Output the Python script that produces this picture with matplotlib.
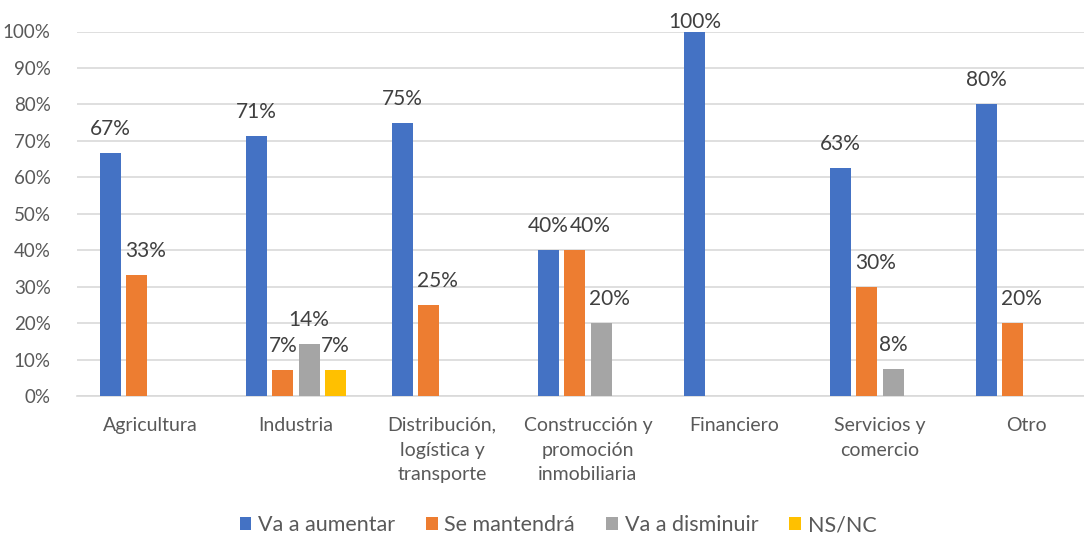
import matplotlib
matplotlib.use("Agg")
import matplotlib.pyplot as plt
import numpy as np
import math

categories = ["Agricultura", "Industria", "Distribución,\nlogística y\ntransporte",
              "Construcción y\npromoción\ninmobiliaria", "Financiero",
              "Servicios y\ncomercio", "Otro"]
series_names = ["Va a aumentar", "Se mantendrá", "Va a disminuir", "NS/NC"]
va_a_aumentar = [66.7, 71.4, 75.0, 40.0, 100.0, 62.5, 80.0]
se_mantendra = [33.3, 7.1, 25.0, 40.0, 0.0, 30.0, 20.0]
va_a_disminuir = [0.0, 14.3, 0.0, 20.0, 0.0, 7.5, 0.0]
ns_nc = [0.0, 7.1, 0.0, 0.0, 0.0, 0.0, 0.0]
colors = ["#4472C4", "#ED7D31", "#A5A5A5", "#FFC000"]

plt.rcParams['font.family'] = ['Lato', 'DejaVu Sans']

fig = plt.figure(figsize=(10.84, 5.35), dpi=100)
W, H = 1084, 535
ax_bottom_px, ax_h_px = 396, 364.5
ax = fig.add_axes([77 / W, (H - ax_bottom_px) / H, 1022 / W, ax_h_px / H])

x = np.arange(len(categories))
width = 0.145
step = 0.18
all_series = [va_a_aumentar, se_mantendra, va_a_disminuir, ns_nc]
bar_containers = []
labels = {}  # (group, series) -> (annotation, off_pt)
for i, (vals, name, c) in enumerate(zip(all_series, series_names, colors)):
    pos = x + (i - 1.5) * step
    bc = ax.bar(pos, vals, width=width, color=c, label=name, zorder=3)
    bar_containers.append(bc)
    for g, (p, v) in enumerate(zip(pos, vals)):
        if v > 0:
            top_px = ax_bottom_px - v / 100 * ax_h_px
            base_px = max(top_px - 18, 28)
            off_pt = (top_px - base_px) * 72 / 100
            a = ax.annotate(f"{math.floor(v + 0.5)}%", xy=(p, v), xytext=(0, off_pt),
                            textcoords="offset points", ha="center", va="baseline",
                            fontsize=15, color="#404040", annotation_clip=False)
            labels[(g, i)] = (a, off_pt)

ax.set_xlim(-0.5, len(categories) - 0.5)
ax.set_ylim(0, 100)
ax.set_yticks(np.arange(0, 101, 10))
ax.set_yticklabels([f"{t}%" for t in range(0, 101, 10)], fontsize=13.5, color="#595959")
ax.set_xticks(x)
ax.set_xticklabels(categories, fontsize=14, color="#595959", linespacing=1.55)
ax.tick_params(axis="both", length=0)
ax.tick_params(axis="y", pad=19)
ax.tick_params(axis="x", pad=15)
ax.grid(axis="y", color="#D9D9D9", linewidth=1.2, zorder=0)
for s in ["top", "right", "left"]:
    ax.spines[s].set_visible(False)
ax.spines["bottom"].set_color("#D9D9D9")
ax.spines["bottom"].set_linewidth(1.2)

leg = fig.legend(loc="center", bbox_to_anchor=(558 / W, (H - 525) / H), ncol=4,
                 frameon=False, fontsize=15.5, handlelength=0.55, handleheight=0.55,
                 handletextpad=0.3, columnspacing=1.45, labelcolor="#595959")

# Excel-like nudge: move a label right when it would collide with the taller
# neighbouring bar on its left or with the previous label.
fig.canvas.draw()
renderer = fig.canvas.get_renderer()
for g in range(len(categories)):
    prev_bbox = None
    for i in range(len(all_series)):
        if (g, i) not in labels:
            continue
        a, off_pt = labels[(g, i)]
        bb = a.get_window_extent(renderer)
        shift = 0.0
        if i > 0:
            nb = bar_containers[i - 1].patches[g].get_window_extent(renderer)
            if nb.height > 0 and nb.y1 > bb.y0 and nb.x1 > bb.x0:
                shift = max(shift, nb.x1 + 4 - bb.x0)
        if prev_bbox is not None and prev_bbox.y1 > bb.y0 and prev_bbox.y0 < bb.y1:
            shift = max(shift, prev_bbox.x1 + 1 - bb.x0)
        if shift > 0:
            a.xyann = (shift * 72 / 100, off_pt)
            fig.canvas.draw()
            bb = a.get_window_extent(renderer)
        prev_bbox = bb

fig.savefig("out.png", dpi=100)
